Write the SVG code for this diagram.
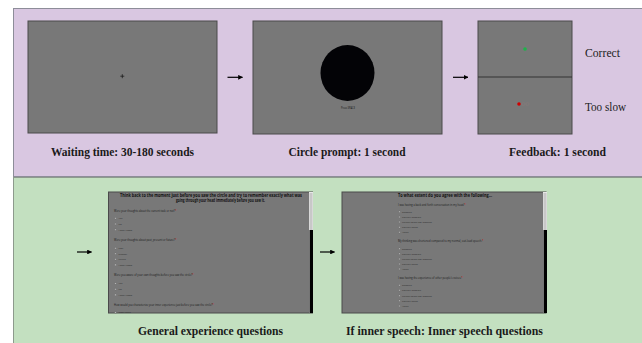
<svg xmlns="http://www.w3.org/2000/svg" width="642" height="343" viewBox="0 0 642 343">
<defs>
<style>
.panel-top{fill:#d9c7e1;stroke:#8d8d99;stroke-width:1}
.panel-bot{fill:#c3e0c0;stroke:#8d9a8d;stroke-width:1}
.screen{fill:#787878;stroke:#4a4a4a;stroke-width:1}
.lbl{font-family:"Liberation Serif",serif;font-weight:bold;font-size:11.5px;fill:#1a1a1a}
.fb{font-family:"Liberation Serif",serif;font-size:11.5px;fill:#222}
.conn{stroke:#000;stroke-width:1.2;fill:none;marker-end:url(#ah)}
.q{font-family:"Open Sans",sans-serif;font-size:2.6px;fill:#1a1a1a}
.o{font-family:"Open Sans",sans-serif;font-size:2.4px;fill:#2a2a2a}
.t{font-family:"Open Sans",sans-serif;font-size:4.6px;font-weight:bold;fill:#111}
.r{fill:#cfcfcf;stroke:#555;stroke-width:0.3}
.ast{fill:#c00000}
.track{fill:#e8e8e8}
.thumb{fill:#c8c8c8}
.sb{fill:#000}
</style>
<marker id="ah" viewBox="0 0 10 10" refX="9" refY="5" markerWidth="4" markerHeight="4" orient="auto">
<path d="M0,0 L10,5 L0,10 z" fill="#000"/>
</marker>
</defs>
<rect x="0" y="0" width="642" height="343" fill="#ffffff"/>
<rect class="panel-top" x="13.5" y="8.5" width="630" height="168"/>
<rect class="panel-bot" x="13.5" y="177.5" width="630" height="170"/>

<g id="waiting">
<rect class="screen" x="28" y="21" width="189" height="112"/>
<path d="M120.3,76.2 h4 M122.3,74.2 v4" stroke="#111" stroke-width="0.7"/>
<text class="lbl" x="122.5" y="155.5" text-anchor="middle" textLength="143" lengthAdjust="spacingAndGlyphs">Waiting time: 30-180 seconds</text>
</g>

<g id="circle-prompt">
<rect class="screen" x="253" y="21" width="189" height="113"/>
<ellipse cx="347.5" cy="73" rx="27" ry="28" fill="#030306"/>
<text x="348" y="109" font-family="Open Sans,sans-serif" font-size="2.6" fill="#111" text-anchor="middle" textLength="14" lengthAdjust="spacingAndGlyphs">Press SPACE</text>
<text class="lbl" x="347" y="155.5" text-anchor="middle" textLength="117" lengthAdjust="spacingAndGlyphs">Circle prompt: 1 second</text>
</g>

<g id="feedback">
<rect class="screen" x="478" y="21" width="94" height="113"/>
<line x1="478" y1="77" x2="572" y2="77" stroke="#333" stroke-width="1"/>
<circle cx="525" cy="49" r="1.8" fill="#1db34a"/>
<circle cx="519" cy="104" r="1.8" fill="#d00000"/>
<circle cx="523.5" cy="104" r="1.6" fill="none" stroke="#8a7a7a" stroke-width="0.5"/>
<circle cx="527.5" cy="104" r="1.6" fill="none" stroke="#8a7a7a" stroke-width="0.5"/>
<text class="fb" x="585" y="57" textLength="35" lengthAdjust="spacingAndGlyphs">Correct</text>
<text class="fb" x="585" y="111" textLength="41" lengthAdjust="spacingAndGlyphs">Too slow</text>
<text class="lbl" x="557.5" y="155.5" text-anchor="middle" textLength="97" lengthAdjust="spacingAndGlyphs">Feedback: 1 second</text>
</g>

<g id="general-questions">
<rect class="screen" x="108.5" y="192" width="204" height="121"/>
<rect class="track" x="309" y="192" width="4" height="121"/>
<rect class="thumb" x="309.5" y="193" width="3" height="37"/>
<rect class="sb" x="309.5" y="230" width="3.5" height="83"/>
<text class="t" x="120" y="197" textLength="182" lengthAdjust="spacingAndGlyphs">Think back to the moment just before you saw the circle and try to remember exactly what was</text>
<text class="t" x="176" y="201.5" textLength="89" lengthAdjust="spacingAndGlyphs">going through your head immediately before you saw it.</text>
<text class="q" x="114" y="211.5">Were your thoughts about the current task or not?<tspan class="ast">*</tspan></text>
<circle class="r" cx="115.5" cy="218.3" r="0.8"/><text class="o" x="118.5" y="219.2">Yes</text>
<circle class="r" cx="115.5" cy="224" r="0.8"/><text class="o" x="118.5" y="224.9">No</text>
<circle class="r" cx="115.5" cy="229.7" r="0.8"/><text class="o" x="118.5" y="230.6">I don't know</text>
<text class="q" x="114" y="241">Were your thoughts about past, present or future?<tspan class="ast">*</tspan></text>
<circle class="r" cx="115.5" cy="248.2" r="0.8"/><text class="o" x="118.5" y="249.1">Past</text>
<circle class="r" cx="115.5" cy="253.7" r="0.8"/><text class="o" x="118.5" y="254.6">Present</text>
<circle class="r" cx="115.5" cy="259.3" r="0.8"/><text class="o" x="118.5" y="260.2">Future</text>
<circle class="r" cx="115.5" cy="264.9" r="0.8"/><text class="o" x="118.5" y="265.8">I don't know</text>
<text class="q" x="114" y="275.8">Were you aware of your own thoughts before you saw the circle?<tspan class="ast">*</tspan></text>
<circle class="r" cx="115.5" cy="283.5" r="0.8"/><text class="o" x="118.5" y="284.4">Yes</text>
<circle class="r" cx="115.5" cy="289.2" r="0.8"/><text class="o" x="118.5" y="290.1">No</text>
<circle class="r" cx="115.5" cy="294.9" r="0.8"/><text class="o" x="118.5" y="295.8">I don't know</text>
<text class="q" x="114" y="305.5">How would you characterize your inner experience just before you saw the circle?<tspan class="ast">*</tspan></text>
<circle class="r" cx="115.5" cy="312.5" r="0.8"/><text class="o" x="118.5" y="313.2">Inner voice</text>
<text class="lbl" x="210.5" y="335" text-anchor="middle" textLength="145" lengthAdjust="spacingAndGlyphs">General experience questions</text>
</g>

<g id="inner-speech-questions">
<rect class="screen" x="342" y="192" width="204" height="121"/>
<rect class="track" x="543" y="192" width="4" height="121"/>
<rect class="thumb" x="543.5" y="193" width="3" height="37"/>
<rect class="sb" x="543.5" y="230" width="3.5" height="83"/>
<text class="t" x="398" y="197" textLength="94" lengthAdjust="spacingAndGlyphs">To what extent do you agree with the following...</text>
<text class="q" x="398" y="205.5">I was having a back and forth conversation in my head.<tspan class="ast">*</tspan></text>
<circle class="r" cx="399.5" cy="211.7" r="0.75"/><text class="o" x="402" y="212.5">Disagree</text>
<circle class="r" cx="399.5" cy="217" r="0.75"/><text class="o" x="402" y="217.8">Partially disagree</text>
<circle class="r" cx="399.5" cy="222" r="0.75"/><text class="o" x="402" y="222.8">Neither agree nor disagree</text>
<circle class="r" cx="399.5" cy="227.3" r="0.75"/><text class="o" x="402" y="228.1">Partially agree</text>
<circle class="r" cx="399.5" cy="232.3" r="0.75"/><text class="o" x="402" y="233.1">Agree</text>
<text class="q" x="398" y="242">My thinking was shortened compared to my normal, out-loud speech.<tspan class="ast">*</tspan></text>
<circle class="r" cx="399.5" cy="248.7" r="0.75"/><text class="o" x="402" y="249.5">Disagree</text>
<circle class="r" cx="399.5" cy="253.7" r="0.75"/><text class="o" x="402" y="254.5">Partially disagree</text>
<circle class="r" cx="399.5" cy="259" r="0.75"/><text class="o" x="402" y="259.8">Neither agree nor disagree</text>
<circle class="r" cx="399.5" cy="264" r="0.75"/><text class="o" x="402" y="264.8">Partially agree</text>
<circle class="r" cx="399.5" cy="269" r="0.75"/><text class="o" x="402" y="269.8">Agree</text>
<text class="q" x="398" y="279">I was having the experience of other people's voices.<tspan class="ast">*</tspan></text>
<circle class="r" cx="399.5" cy="285.3" r="0.75"/><text class="o" x="402" y="286.1">Disagree</text>
<circle class="r" cx="399.5" cy="290.3" r="0.75"/><text class="o" x="402" y="291.1">Partially disagree</text>
<circle class="r" cx="399.5" cy="295.7" r="0.75"/><text class="o" x="402" y="296.5">Neither agree nor disagree</text>
<circle class="r" cx="399.5" cy="300.7" r="0.75"/><text class="o" x="402" y="301.5">Partially agree</text>
<circle class="r" cx="399.5" cy="306" r="0.75"/><text class="o" x="402" y="306.8">Agree</text>
<text class="lbl" x="444.5" y="335" text-anchor="middle" textLength="197" lengthAdjust="spacingAndGlyphs">If inner speech: Inner speech questions</text>
</g>

<g id="connectors">
<line class="conn" x1="227.5" y1="77.3" x2="242.5" y2="77.3"/>
<line class="conn" x1="453" y1="77.3" x2="468" y2="77.3"/>
<line class="conn" x1="77" y1="252" x2="91.5" y2="252"/>
<line class="conn" x1="320" y1="252" x2="334.5" y2="252"/>
</g>
</svg>
